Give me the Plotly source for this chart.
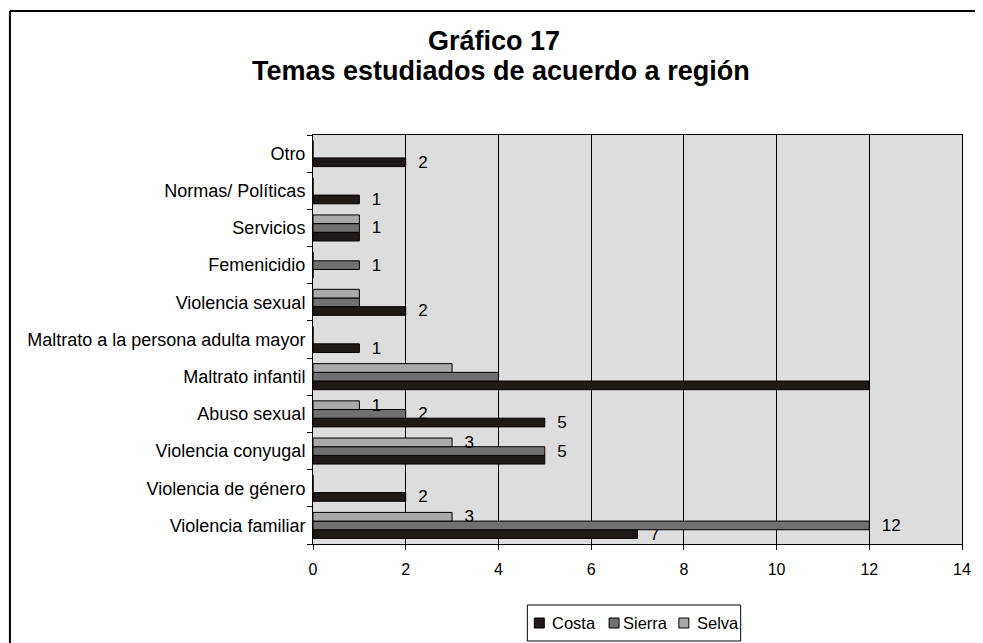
import plotly.graph_objects as go

categories = ["Violencia familiar", "Violencia de género", "Violencia conyugal", "Abuso sexual",
              "Maltrato infantil", "Maltrato a la persona adulta mayor", "Violencia sexual",
              "Femenicidio", "Servicios", "Normas/ Políticas", "Otro"]
series_names = ["Costa", "Sierra", "Selva"]
costa = [7, 2, 5, 5, 12, 1, 2, 0, 1, 1, 2]
sierra = [12, 0, 5, 2, 4, 0, 1, 1, 1, 0, 0]
selva = [3, 0, 3, 1, 3, 0, 1, 0, 1, 0, 0]
costa_labels = ["7", "2", "", "5", "", "1", "2", "", "", "1", "2"]
sierra_labels = ["12", "", "5", "2", "", "", "", "1", "1", "", ""]
selva_labels = ["3", "", "3", "1", "", "", "", "", "", "", ""]
x_ticks = [0, 2, 4, 6, 8, 10, 12, 14]
title_line1 = "Gráfico 17"
title_line2 = "Temas estudiados de acuerdo a región"
colors = ["#1f1a17", "#707070", "#a9a9a9"]

FONT = "Liberation Sans, Arial, sans-serif"
OFF = 8  # default page body margin
W, H = 983 - OFF, 643 - OFF
L, R, T, B = 313 - OFF, 19, 135 - OFF, 643 - 544
pw, ph = W - L - R, H - T - B

def px_x(p):
    return (p - OFF - L) / pw

def px_y(p):
    return 1 - (p - OFF - T) / ph

fig = go.Figure()
for name, vals, labs, col in zip(series_names, [costa, sierra, selva],
                                 [costa_labels, sierra_labels, selva_labels], colors):
    fig.add_trace(go.Bar(
        y=categories, x=vals, name=name, orientation="h",
        marker=dict(color=col, line=dict(color="black", width=1)),
        text=["  " + t if t else "" for t in labs], textposition="outside",
        cliponaxis=False, constraintext="none",
        textfont=dict(family=FONT, size=17, color="black"),
        showlegend=False,
    ))

# legend drawn as box + swatches + labels
legend_shapes = [dict(type="rect", xref="paper", yref="paper",
                      x0=px_x(528), x1=px_x(742), y0=px_y(605), y1=px_y(641),
                      line=dict(color="black", width=1), fillcolor="white", layer="above")]
legend_annots = []
sw_x = [535, 610, 680]
tx_x = [551, 622, 696]
for name, col, sx, tx in zip(series_names, colors, sw_x, tx_x):
    legend_shapes.append(dict(type="rect", xref="paper", yref="paper",
                              x0=px_x(sx), x1=px_x(sx + 10), y0=px_y(618), y1=px_y(628),
                              line=dict(color="black", width=1), fillcolor=col, layer="above"))
    legend_annots.append(dict(text=name, xref="paper", yref="paper", x=px_x(tx), y=px_y(623),
                              xanchor="left", yanchor="middle", showarrow=False,
                              font=dict(size=16.5, color="black")))

fig.update_layout(
    width=W, height=H,
    margin=dict(l=L, r=R, t=T, b=B),
    paper_bgcolor="white", plot_bgcolor="#dddddd",
    barmode="group", bargap=0.3, bargroupgap=0,
    font=dict(family=FONT, size=17, color="black"),
    showlegend=False,
    xaxis=dict(range=[0, 14], tickvals=x_ticks, showgrid=True, gridcolor="black",
               gridwidth=1, showline=True, linecolor="black", mirror=True,
               ticks="outside", ticklen=5, tickcolor="black", zeroline=False,
               ticklabelstandoff=6, tickfont=dict(size=16)),
    yaxis=dict(type="category", categoryorder="array", categoryarray=categories,
               showline=True, linecolor="black", mirror=True, ticks="outside",
               tickson="boundaries", ticklen=5, tickcolor="black", showgrid=False,
               ticklabelstandoff=3, tickfont=dict(size=18)),
    annotations=[
        dict(text="<b>" + title_line1 + "</b>", xref="paper", yref="paper",
             x=px_x(495), y=px_y(58), xanchor="center", yanchor="bottom",
             showarrow=False, font=dict(size=27, color="black")),
        dict(text="<b>" + title_line2 + "</b>", xref="paper", yref="paper",
             x=px_x(502), y=px_y(88), xanchor="center", yanchor="bottom",
             showarrow=False, font=dict(size=27, color="black")),
    ] + legend_annots,
    shapes=[
        dict(type="line", xref="paper", yref="paper", x0=px_x(9), x1=px_x(990),
             y0=px_y(11), y1=px_y(11), line=dict(color="black", width=2)),
        dict(type="line", xref="paper", yref="paper", x0=px_x(9), x1=px_x(9),
             y0=px_y(11), y1=px_y(650), line=dict(color="black", width=2)),
    ] + legend_shapes,
)

fig.write_html("out.html")
